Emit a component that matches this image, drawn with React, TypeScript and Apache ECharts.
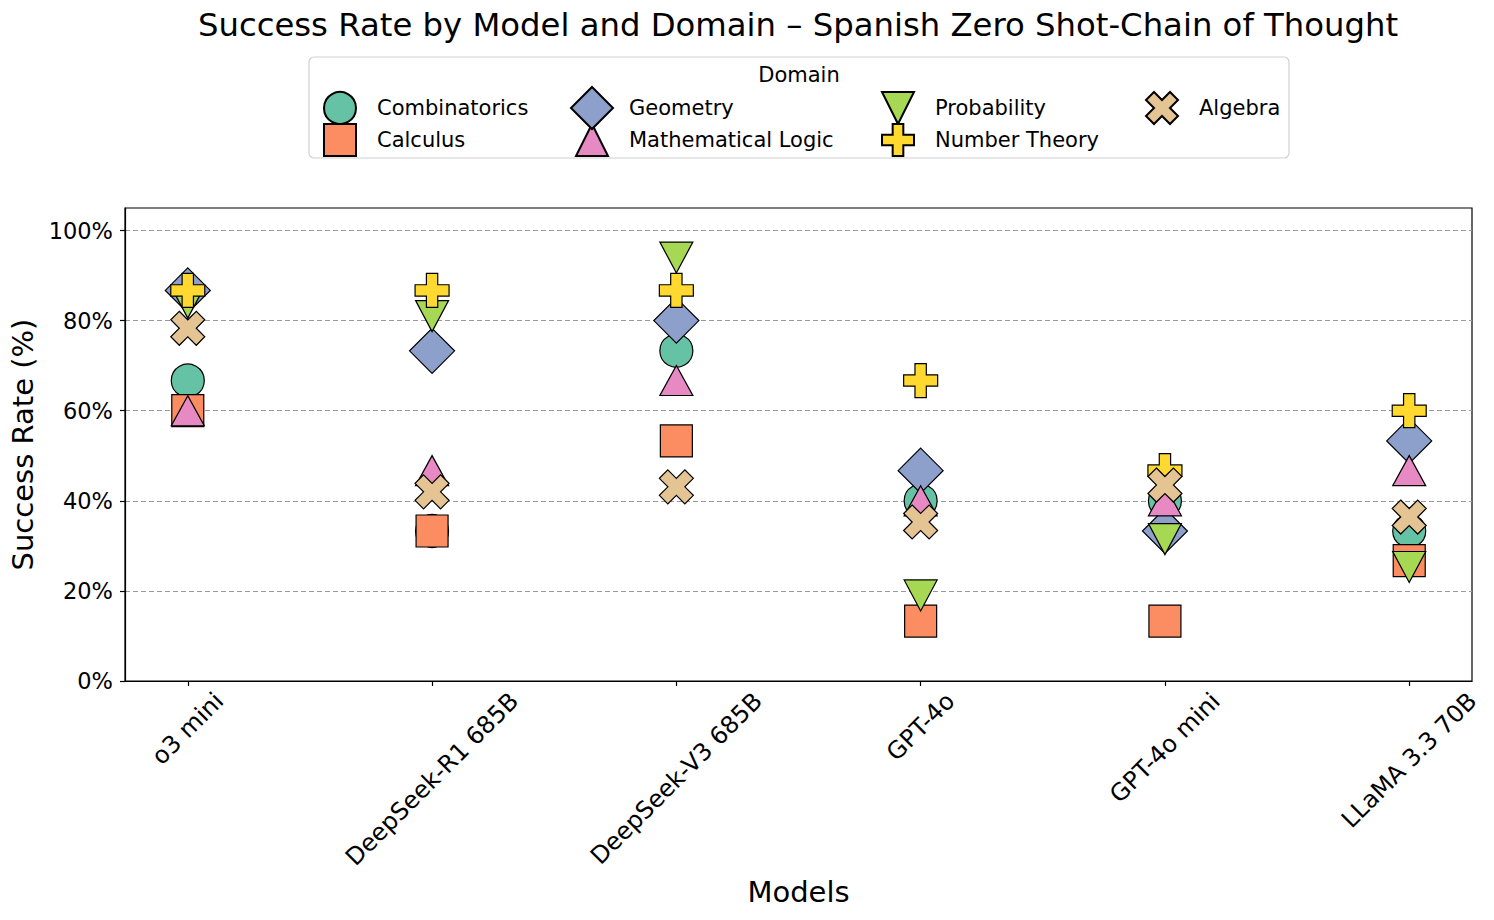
import React, { useEffect, useRef } from 'react';
import * as echarts from 'echarts';

const models = ['o3 mini', 'DeepSeek-R1 685B', 'DeepSeek-V3 685B', 'GPT-4o', 'GPT-4o mini', 'LLaMA 3.3 70B'];
const domains = ['Combinatorics', 'Calculus', 'Geometry', 'Mathematical Logic', 'Probability', 'Number Theory', 'Algebra'];
const combinatorics = [66.7, 33.3, 73.3, 40, 40, 33.3];
const calculus = [60, 33.3, 53.3, 13.3, 13.3, 26.7];
const geometry = [86.7, 73.3, 80, 46.7, 33.3, 53.3];
const mathLogic = [60, 46.7, 66.7, 40, 40, 46.7];
const probability = [84, 81, 94, 19, 31.5, 25.3];
const numberTheory = [86.7, 86.7, 86.7, 66.7, 46.7, 60];
const algebra = [78.3, 42, 43.1, 35.3, 43.5, 36.4];
const yTicks = [0, 20, 40, 60, 80, 100];
const xTicks = [0, 1, 2, 3, 4, 5];

const FONT = 'DejaVu Sans';
const XFS = 24;
const colors = ['#66c2a5', '#fc8d62', '#8da0cb', '#e78ac3', '#a6d854', '#ffd92f', '#e5c494'];
const symbols = [
  'circle',
  'path://M0,0L10,0L10,10L0,10Z',
  'path://M0,-10L10,0L0,10L-10,0Z',
  'path://M0,0L10,20L-10,20Z',
  'path://M-10,0L10,0L0,20Z',
  'path://M-1,-3L1,-3L1,-1L3,-1L3,1L1,1L1,3L-1,3L-1,1L-3,1L-3,-1L-1,-1Z',
  'path://M-1,-2L0,-1L1,-2L2,-1L1,0L2,1L1,2L0,1L-1,2L-2,1L-1,0L-2,-1Z',
];
const sizes: any[] = [33, 32, 45, [33, 30], [33, 31], 34, 34];

function measure(text: string, size: number) {
  const c = document.createElement('canvas').getContext('2d');
  if (!c) return text.length * size * 0.6;
  c.font = `${size}px "${FONT}"`;
  return c.measureText(text).width;
}

export default function App() {
  const ref = useRef<HTMLDivElement>(null);
  useEffect(() => {
    document.body.style.margin = '0';
    if (!ref.current) return;
    const chart = echarts.init(ref.current, undefined, { renderer: 'svg' });
    const values = [combinatorics, calculus, geometry, mathLogic, probability, numberTheory, algebra];
    const rich: any = {};
    models.forEach((m, i) => {
      const L = measure(m, XFS);
      rich['l' + i] = {
        fontSize: XFS,
        fontFamily: FONT,
        color: '#000',
        padding: [L / 2, L / 2, 0, 0],
      };
    });
    const legendCols = [
      { data: ['Combinatorics', 'Calculus'], left: 323, top: 91, itemHeight: 32, itemWidth: 64 },
      { data: ['Mathematical Logic'], left: 575, top: 123, itemHeight: 32, itemWidth: 64 },
      { data: ['Geometry'], left: 570, top: 86, itemHeight: 42, itemWidth: 64 },
      { data: ['Probability', 'Number Theory'], left: 881, top: 91, itemHeight: 32, itemWidth: 64 },
      { data: ['Algebra'], left: 1145, top: 91, itemHeight: 32, itemWidth: 64 },
    ];
    chart.setOption({
      animation: false,
      title: {
        text: 'Success Rate by Model and Domain – Spanish Zero Shot-Chain of Thought',
        left: 798,
        top: 9,
        padding: 0,
        textAlign: 'center',
        textStyle: { fontSize: 32.3, fontWeight: 'normal', fontFamily: FONT, color: '#000' },
      },
      graphic: [
        {
          type: 'rect',
          z: 0,
          shape: { x: 309, y: 57, width: 980, height: 101, r: 5 },
          style: { fill: 'rgba(255,255,255,0.8)', stroke: '#d0d0d0', lineWidth: 1.2 },
        },
        {
          type: 'text',
          z: 1,
          x: 799,
          y: 75,
          style: {
            text: 'Domain',
            fontSize: 21,
            fontFamily: FONT,
            fill: '#000',
            align: 'center',
            verticalAlign: 'middle',
          },
        },
      ],
      legend: legendCols.map((l) => ({
        ...l,
        orient: 'vertical',
        itemGap: -2,
        padding: 0,
        selectedMode: false,
        textStyle: { fontSize: 21, fontFamily: FONT, color: '#000' },
      })),
      grid: {
        left: 125,
        right: 22,
        top: 208,
        bottom: 239,
        show: true,
        borderColor: '#000',
        borderWidth: 1.2,
        backgroundColor: 'transparent',
      },
      xAxis: {
        type: 'value',
        min: -0.257,
        max: 5.257,
        name: 'Models',
        nameLocation: 'middle',
        nameGap: 196,
        nameTextStyle: { fontSize: 29, fontFamily: FONT, color: '#000' },
        axisLine: { show: true, onZero: false, lineStyle: { color: '#000', width: 1.2 } },
        axisTick: { show: true, customValues: xTicks, length: 5, lineStyle: { color: '#000', width: 1.2 } },
        axisLabel: {
          customValues: xTicks,
          rotate: 45,
          align: 'center',
          verticalAlign: 'middle',
          margin: 16,
          formatter: (v: number) => {
            const i = Math.round(v);
            return `{l${i}|${models[i]}}`;
          },
          rich,
        },
        splitLine: { show: false },
      },
      yAxis: {
        type: 'value',
        min: 0,
        max: 105,
        interval: 20,
        name: 'Success Rate (%)',
        nameLocation: 'middle',
        nameGap: 86,
        nameTextStyle: { fontSize: 29, fontFamily: FONT, color: '#000' },
        axisLine: { show: true, onZero: false, lineStyle: { color: '#000', width: 1.2 } },
        axisTick: { show: true, customValues: yTicks, length: 5, lineStyle: { color: '#000', width: 1.2 } },
        axisLabel: {
          customValues: yTicks,
          formatter: (v: number) => `${v}%`,
          fontSize: 22.5,
          fontFamily: FONT,
          color: '#000',
          margin: 12,
        },
        splitLine: { show: true, lineStyle: { type: [5, 3], color: '#9a9a9a', width: 1.2 } },
      },
      series: domains.map((d, i) => ({
        type: 'scatter',
        name: d,
        symbol: symbols[i],
        symbolSize: sizes[i],
        data: values[i].map((v, j) => [j, v]),
        itemStyle: { color: colors[i], borderColor: '#000', borderWidth: 1.2, opacity: 1 },
        emphasis: { disabled: true },
        z: 2,
      })),
    });
    return () => chart.dispose();
  }, []);
  return <div ref={ref} style={{ width: 1494, height: 920 }} />;
}
